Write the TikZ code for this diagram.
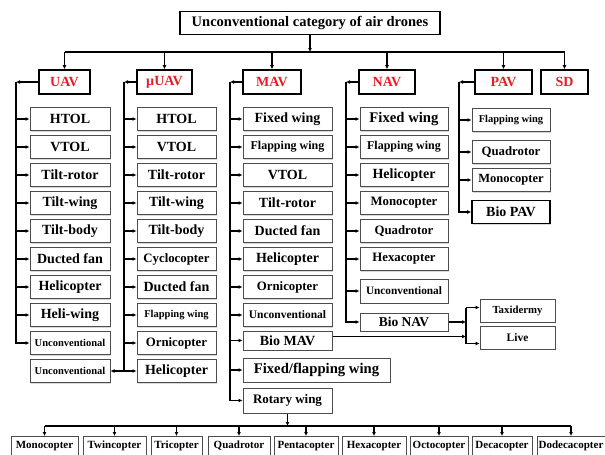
\documentclass[tikz,border=0pt]{standalone}
\usepackage{fontspec}
\setmainfont{Liberation Serif}
\usetikzlibrary{arrows.meta, shadows}
\definecolor{DroneRed}{RGB}{232,28,36}

\begin{document}
\begin{tikzpicture}[x=1pt, y=-1pt,
      cat/.style={draw, line width=1.6pt, text=DroneRed, minimum height=24pt,
                  inner sep=1pt, font=\fontsize{14}{16}\selectfont\bfseries},
      item/.style={draw=black!70, line width=1pt, fill=white, minimum height=23pt,
                   inner sep=1pt, font=\fontsize{14}{16}\selectfont\bfseries,
                   drop shadow={shadow xshift=1pt, shadow yshift=-1pt, fill=black!30}},
      midtxt/.style={font=\fontsize{12.8}{14}\selectfont\bfseries},
      smalltxt/.style={font=\fontsize{10.5}{12}\selectfont\bfseries},
      uavbox/.style={item, minimum width=80pt},
      muavbox/.style={item, minimum width=79pt},
      mavbox/.style={item, minimum width=89pt},
      navbox/.style={item, minimum width=88pt},
      pavbox/.style={item, minimum width=78pt},
      rotor/.style={item, minimum height=19pt, font=\fontsize{11}{12}\selectfont\bfseries},
      arr/.style={-{Latex[length=4pt,width=4pt]}, line width=1.3pt},
      link/.style={line width=1.3pt}
    ]
    \useasboundingbox (0,0) rectangle (605,455);

    % Title and categories
    \node[draw, line width=1.4pt, minimum width=260pt, minimum height=23pt,
          font=\fontsize{14.5}{16}\selectfont\bfseries] (top) at (310,23)
        {Unconventional category of air drones};
    \node[cat, minimum width=51pt] (uav)  at (64.5,82)  {UAV};
    \node[cat, minimum width=55pt] (muav) at (164.5,82) {µUAV};
    \node[cat, minimum width=58pt] (mav)  at (272,82)   {MAV};
    \node[cat, minimum width=56pt] (nav)  at (387,82)   {NAV};
    \node[cat, minimum width=57pt] (pav)  at (503.5,82) {PAV};
    \node[cat, minimum width=47pt] (sd)   at (564.5,82) {SD};

    % UAV
    \node[uavbox] (u1)  at (70,119) {HTOL};
    \node[uavbox] (u2)  at (70,147) {VTOL};
    \node[uavbox] (u3)  at (70,175) {Tilt-rotor};
    \node[uavbox] (u4)  at (70,203) {Tilt-wing};
    \node[uavbox] (u5)  at (70,231) {Tilt-body};
    \node[uavbox] (u6)  at (70,259) {Ducted fan};
    \node[uavbox] (u7)  at (70,287) {Helicopter};
    \node[uavbox] (u8)  at (70,315) {Heli-wing};
    \node[uavbox, smalltxt] (u9)  at (70,343) {Unconventional};
    \node[uavbox, smalltxt] (u10) at (70,371) {Unconventional};

    % muUAV
    \node[muavbox] (m1)  at (176.5,119) {HTOL};
    \node[muavbox] (m2)  at (176.5,147) {VTOL};
    \node[muavbox] (m3)  at (176.5,175) {Tilt-rotor};
    \node[muavbox] (m4)  at (176.5,203) {Tilt-wing};
    \node[muavbox] (m5)  at (176.5,231) {Tilt-body};
    \node[muavbox, midtxt] (m6)  at (176.5,259) {Cyclocopter};
    \node[muavbox] (m7)  at (176.5,287) {Ducted fan};
    \node[muavbox, smalltxt] (m8)  at (176.5,315) {Flapping wing};
    \node[muavbox, midtxt] (m9)  at (176.5,343) {Ornicopter};
    \node[muavbox] (m10) at (176.5,371) {Helicopter};

    % MAV
    \node[mavbox] (a1) at (287.5,119) {Fixed wing};
    \node[mavbox, font=\fontsize{12}{14}\selectfont\bfseries] (a2) at (287.5,147) {Flapping wing};
    \node[mavbox] (a3) at (287.5,175) {VTOL};
    \node[mavbox] (a4) at (287.5,203) {Tilt-rotor};
    \node[mavbox] (a5) at (287.5,231) {Ducted fan};
    \node[mavbox] (a6) at (287.5,259) {Helicopter};
    \node[mavbox, midtxt] (a7) at (287.5,287) {Ornicopter};
    \node[mavbox, font=\fontsize{11.5}{13}\selectfont\bfseries] (a8) at (287.5,315) {Unconventional};
    \node[mavbox, minimum height=19pt] (bioMAV) at (287.5,340.5) {Bio MAV};
    \node[item, minimum width=147pt, minimum height=24pt,
          font=\fontsize{14.7}{16}\selectfont\bfseries] (ffw) at (316.5,370) {Fixed/flapping wing};
    \node[mavbox, minimum height=25pt, font=\fontsize{13}{15}\selectfont\bfseries] (rot) at (287.5,400.5) {Rotary wing};

    % NAV
    \node[navbox, font=\fontsize{14.7}{16}\selectfont\bfseries] (n1) at (404,119) {Fixed wing};
    \node[navbox, font=\fontsize{12}{14}\selectfont\bfseries] (n2) at (404,147) {Flapping wing};
    \node[navbox] (n3) at (404,175) {Helicopter};
    \node[navbox, midtxt] (n4) at (404,203) {Monocopter};
    \node[navbox, midtxt] (n5) at (404,231) {Quadrotor};
    \node[navbox, midtxt] (n6) at (404,259) {Hexacopter};
    \node[navbox, minimum height=24pt, font=\fontsize{11.3}{13}\selectfont\bfseries] (n7) at (404,291) {Unconventional};
    \node[navbox, minimum height=18pt, font=\fontsize{13.5}{15}\selectfont\bfseries] (bioNAV) at (404,322) {Bio NAV};

    % PAV
    \node[pavbox, smalltxt] (p1) at (511,120) {Flapping wing};
    \node[pavbox, midtxt] (p2) at (511,152) {Quadrotor};
    \node[pavbox, font=\fontsize{12.5}{14}\selectfont\bfseries] (p3) at (511,180) {Monocopter};
    \node[pavbox, draw=black, line width=1.6pt] (bioPAV) at (511,212) {Bio PAV};

    % Bio types
    \node[item, minimum width=75pt, font=\fontsize{10.8}{12}\selectfont\bfseries] (taxi) at (517.5,310.5) {Taxidermy};
    \node[item, minimum width=75pt, font=\fontsize{11.5}{13}\selectfont\bfseries] (live) at (517.5,337.5) {Live};

    % Rotary wing types
    \node[rotor, minimum width=67pt] (b1) at (44.5,446) {Monocopter};
    \node[rotor, minimum width=63pt] (b2) at (114.5,446) {Twincopter};
    \node[rotor, minimum width=51pt] (b3) at (176.5,446) {Tricopter};
    \node[rotor, minimum width=62pt] (b4) at (239,446) {Quadrotor};
    \node[rotor, minimum width=64pt] (b5) at (306,446) {Pentacopter};
    \node[rotor, minimum width=64pt] (b6) at (374,446) {Hexacopter};
    \node[rotor, minimum width=58pt] (b7) at (439,446) {Octocopter};
    \node[rotor, minimum width=60pt] (b8) at (502,446) {Decacopter};
    \node[rotor, minimum width=68pt] (b9) at (571,446) {Dodecacopter};

    % Connectors: title to categories
    \coordinate (bus) at (0,52);
    \draw[arr] (top.south) -- (top.south |- bus);
    \draw[link] (uav.north |- bus) -- (sd.north |- bus);
    \foreach \c in {uav,muav,mav,nav,pav,sd}
      \draw[arr] (\c.north |- bus) -- (\c.north);

    % Brackets
    \coordinate (uavL)  at (16,82);
    \coordinate (muavL) at (124,82);
    \coordinate (mavL)  at (230,82);
    \coordinate (navL)  at (346,82);
    \coordinate (pavL)  at (459,82);
    \foreach \c in {uav,muav,mav,nav,pav}
      \draw[arr] (\c.west) -- (\c L);

    \foreach \i in {1,...,9}
      \draw[arr] (uavL) |- (u\i.west);
    \foreach \i in {1,...,10}
      \draw[arr] (muavL) |- (m\i.west);
    \draw[arr] (muavL) |- (u10.east);
    \foreach \i in {a1,a2,a3,a4,a5,a6,a7,a8,bioMAV,ffw,rot}
      \draw[arr] (mavL) |- (\i.west);
    \foreach \i in {n1,n2,n3,n4,n5,n6,n7,bioNAV}
      \draw[arr] (navL) |- (\i.west);
    \foreach \i in {p1,p2,p3,bioPAV}
      \draw[arr] (pavL) |- (\i.west);

    % Bio links
    \coordinate (split) at (466,0);
    \draw[arr] (bioNAV.east) -- (bioNAV.east -| split);
    \draw[arr] ([yshift=4pt]bioMAV.east) -- ([yshift=4pt]bioMAV.east -| split);
    \draw[link] ([yshift=3pt]split |- taxi.west) -- ([yshift=-6pt]split |- live.west);
    \draw[arr] ([yshift=3pt]split |- taxi.west) -- ([yshift=3pt]taxi.west);
    \draw[arr] ([yshift=-6pt]split |- live.west) -- ([yshift=-6pt]live.west);

    % Rotary wing bus
    \coordinate (rbus) at (0,426);
    \draw[arr] (rot.south) -- (rot.south |- rbus);
    \draw[link] (b1.north |- rbus) -- (b9.north |- rbus);
    \foreach \i in {1,...,9}
      \draw[arr] (b\i.north |- rbus) -- (b\i.north);
  \end{tikzpicture}
\end{document}
